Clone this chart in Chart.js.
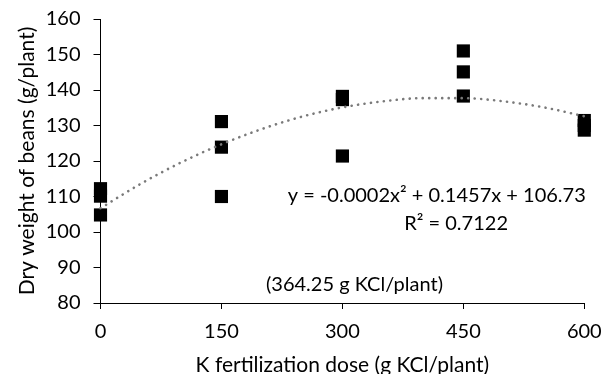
<!DOCTYPE html>
<html lang="en">
<head>
    <title>Dry weight of beans</title>
    <script src="https://cdn.jsdelivr.net/npm/chart.js@4.4.1/dist/chart.umd.min.js"></script>
    <style>
        body { margin: 0; background: #fff; }
    </style>
</head>
<body>

    <canvas id="myChart" width="605" height="374"></canvas>

    <script>
        // measured points (g KCl/plant -> g/plant)
        var doses   = [0, 0, 0, 150, 150, 150, 300, 300, 300, 450, 450, 450, 600, 600, 600];
        var weights = [112.2, 110.1, 104.8, 131.1, 123.9, 110.0, 138.2, 137.3, 121.4, 151.0, 145.1, 138.3, 131.4, 130.0, 128.7];

        // dotted trend curve
        var trendX = [0, 50, 100, 150, 200, 250, 300, 350, 400, 450, 500, 550, 600];
        var trendY = [106.7, 113.6, 119.6, 124.7, 129.0, 132.5, 135.1, 136.8, 137.7, 137.7, 136.8, 135.1, 132.6];

        var xTicks = [0, 150, 300, 450, 600];
        var yTicks = [80, 90, 100, 110, 120, 130, 140, 150, 160];

        var FONT = "Lato, 'Open Sans', sans-serif";

        var points = doses.map((d, i) => ({x: d, y: weights[i]}));
        var trend = trendX.map((d, i) => ({x: d, y: trendY[i]}));

        var notes = {
            id: "notes",
            afterDraw(chart) {
                var ctx = chart.ctx;
                var xs = chart.scales.x, ys = chart.scales.y;
                ctx.save();
                ctx.fillStyle = "#000";
                ctx.font = "20px " + FONT;
                ctx.textAlign = "center";
                ctx.textBaseline = "middle";
                ctx.fillText("y = -0.0002x\u00b2 + 0.1457x + 106.73", xs.getPixelForValue(417), ys.getPixelForValue(110.4));
                ctx.fillText("R\u00b2 = 0.7122", xs.getPixelForValue(441), ys.getPixelForValue(102.5));
                ctx.fillText("(364.25 g KCl/plant)", xs.getPixelForValue(315), ys.getPixelForValue(85.2));
                ctx.restore();
            }
        };

        new Chart("myChart", {
            type: "scatter",
            data: {
                datasets: [
                    {
                        type: "line",
                        data: trend,
                        borderColor: "#7a7a7a",
                        borderWidth: 2.6,
                        borderDash: [0.1, 6.4],
                        borderCapStyle: "round",
                        pointRadius: 0,
                        cubicInterpolationMode: "monotone",
                        fill: false,
                        clip: false
                    },
                    {
                        data: points,
                        pointStyle: "rect",
                        pointRadius: 9.3,
                        pointBorderWidth: 0,
                        backgroundColor: "#000",
                        borderColor: "#000",
                        clip: false
                    }
                ]
            },
            options: {
                responsive: false,
                animation: false,
                devicePixelRatio: 1,
                layout: {
                    padding: { top: 19, right: 20.7, left: 0, bottom: 0 }
                },
                plugins: {
                    legend: { display: false },
                    tooltip: { enabled: false }
                },
                scales: {
                    x: {
                        type: "linear",
                        min: 0,
                        max: 600,
                        afterBuildTicks: s => { s.ticks = xTicks.map(v => ({value: v})); },
                        afterFit: s => { s.height = 71; s.paddingLeft = 0; s.paddingRight = 0; },
                        grid: { drawOnChartArea: false, tickLength: 6, color: "#000" },
                        border: { color: "#000", width: 1 },
                        ticks: { color: "#000", padding: 10.5, font: { family: FONT, size: 20 } },
                        title: {
                            display: true,
                            text: "K fertilization dose (g KCl/plant)",
                            color: "#000",
                            font: { family: FONT, size: 21, lineHeight: 1 },
                            padding: { top: 0, bottom: -1.5 }
                        }
                    },
                    y: {
                        min: 80,
                        max: 160,
                        afterBuildTicks: s => { s.ticks = yTicks.map(v => ({value: v})); },
                        afterFit: s => { s.width = 100.5; s.paddingTop = 0; s.paddingBottom = 0; },
                        grid: { drawOnChartArea: false, tickLength: 7, color: "#000" },
                        border: { color: "#000", width: 1 },
                        ticks: { color: "#000", padding: 13, font: { family: FONT, size: 20 } },
                        title: {
                            display: true,
                            text: "Dry weight of beans (g/plant)",
                            color: "#000",
                            font: { family: FONT, size: 21, lineHeight: 1 },
                            padding: { top: 16.5, bottom: 0 }
                        }
                    }
                }
            },
            plugins: [notes]
        });
    </script>
</body>
</html>
